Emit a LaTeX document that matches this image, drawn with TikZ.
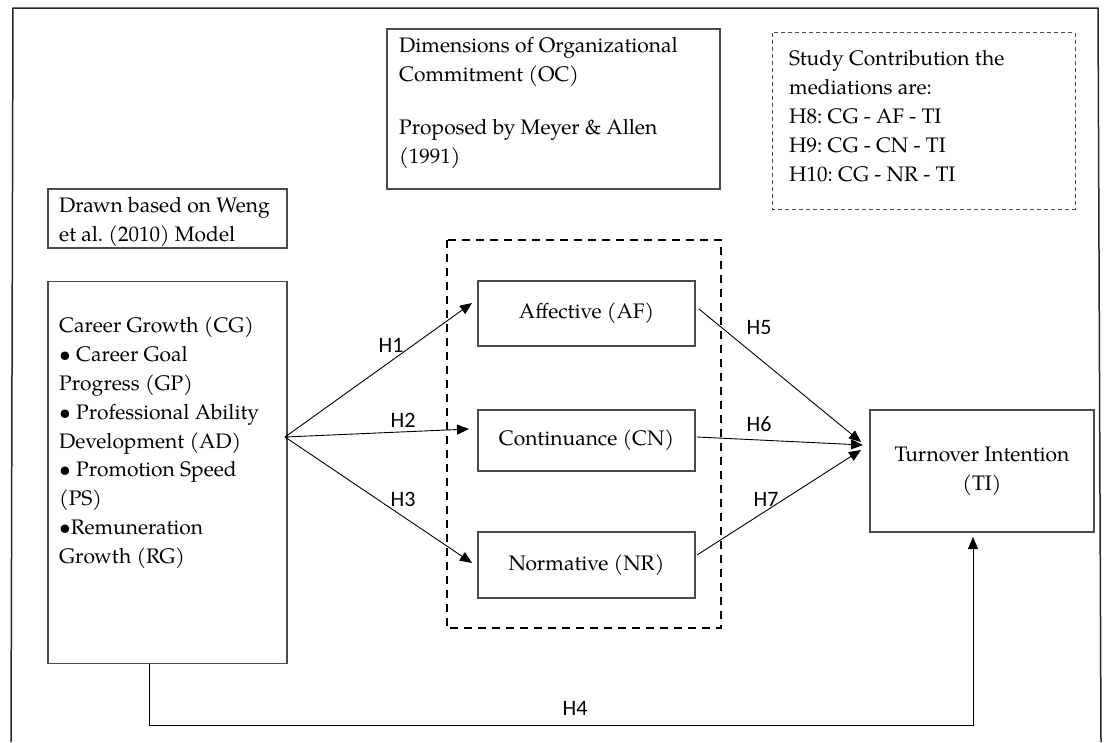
\documentclass[tikz,border=0pt]{standalone}
\usepackage{fontspec}
\setmainfont{TeX Gyre Pagella}
\newfontfamily\hfont{Carlito}
\usetikzlibrary{arrows.meta}
\definecolor{boxgray}{RGB}{75,75,75}
\definecolor{framegray}{RGB}{40,40,40}
\frenchspacing
\begin{document}
\begin{tikzpicture}[x=1pt,y=-1pt,
  box/.style={draw=boxgray, line width=1.1pt, inner sep=0pt},
  txt/.style={font=\fontsize{21}{28.8}\selectfont, align=left, inner sep=0pt},
  ctxt/.style={box, font=\fontsize{21}{28.8}\selectfont, align=center},
  conn/.style={draw=black, line width=0.9pt},
  arr/.style={conn, -{Triangle[length=12pt,width=10pt]}},
  hlab/.style={font=\hfont\fontsize{22}{24}\selectfont, inner sep=0pt},
  bigdash/.style={draw=black, line width=2.2pt, dash pattern=on 8pt off 6pt},
  smalldash/.style={draw=boxgray, line width=1pt, dash pattern=on 4pt off 3pt}]
\useasboundingbox (0,0) rectangle (1108,742);
\fill[white] (0,0) rectangle (1108,742);
% outer frame (open at the bottom)
\draw[draw=framegray, line width=1.5pt] (11,742) -- (13,8) -- (1098,8) -- (1101,742);

% Weng box
\node[box, minimum width=239pt, minimum height=59pt] (weng) at (167.5,218.5) {};
\node[txt, anchor=north west] (wengtxt) at (59,197.5) {Drawn based on Weng\\et al. (2010) Model};

% Career growth box
\node[box, minimum width=239pt, minimum height=382pt] (CG) at (167.5,472.5) {};
\node[txt, anchor=north west] (cgtxt) at (59,317) {Career Growth (CG)\\• Career Goal\\Progress (GP)\\• Professional Ability\\Development (AD)\\• Promotion Speed\\(PS)\\•Remuneration\\Growth (RG)};

% OC box
\node[box, minimum width=333pt, minimum height=160pt] (OC) at (553.5,109) {};
\node[txt, anchor=north west] (octxt) at (399,37.5) {Dimensions of Organizational\\Commitment (OC)\\[24pt]Proposed by Meyer \& Allen\\(1991)};

% Study contribution box
\node[draw=none, minimum width=302pt, minimum height=176pt, inner sep=0pt] (SC) at (924,121) {};
\draw[smalldash] (SC.north west) rectangle (SC.south east);
\node[txt, anchor=north west] (sctxt) at (789,50.5) {Study Contribution the\\mediations are:\\H8: CG - AF - TI\\H9: CG - CN - TI\\H10: CG - NR - TI};

% big dashed group
\node[draw=none, minimum width=274pt, minimum height=388pt, inner sep=0pt] (grp) at (584,434) {};
\draw[bigdash] (grp.north west) rectangle (grp.south east);

% mediators
\node[ctxt, minimum width=217pt, minimum height=65pt] (AF) at (586.5,313.5) {Affective (AF)};
\node[ctxt, minimum width=217pt, minimum height=61pt] (CN) at (586.5,440.5) {Continuance (CN)};
\node[ctxt, minimum width=217pt, minimum height=66pt] (NR) at (586.5,565) {Normative (NR)};

% outcome
\node[ctxt, minimum width=224pt, minimum height=122pt] (TI) at (982,471) {Turnover Intention\\(TI)};

% connection points
\coordinate (cgout) at (285,437);
\coordinate (afin) at (472,303);
\coordinate (cnin) at (469,429);
\coordinate (nrin) at (472,563);
\coordinate (afout) at (699,309);
\coordinate (cnout) at (697,437);
\coordinate (nrout) at (697,555);
\coordinate (ti5) at (861,442);
\coordinate (ti6) at (863,445);
\coordinate (ti7) at (861,450);
\coordinate (h4a) at (149,725);
\coordinate (h4b) at (973,725);
\coordinate (tiin) at (973,537);

\draw[arr] (cgout) -- (afin);
\draw[arr] (cgout) -- (cnin);
\draw[arr] (cgout) -- (nrin);
\draw[arr] (afout) -- (ti5);
\draw[arr] (cnout) -- (ti6);
\draw[arr] (nrout) -- (ti7);
\draw[arr] (CG.south -| h4a) -- (h4a) -- (h4b) -- (tiin);

% labels
\node[hlab] (lh1) at (391,345) {H1};
\node[hlab] (lh2) at (403,420) {H2};
\node[hlab] (lh3) at (403,499) {H3};
\node[hlab] (lh4) at (575,708) {H4};
\node[hlab] (lh5) at (759,328) {H5};
\node[hlab] (lh6) at (759,424) {H6};
\node[hlab] (lh7) at (766,499) {H7};
\end{tikzpicture}
\end{document}
